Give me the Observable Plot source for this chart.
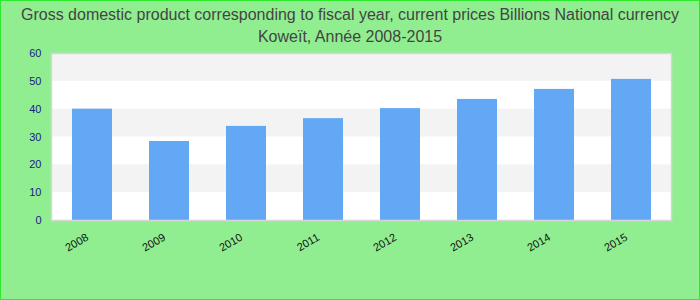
<!DOCTYPE html>
<html><head><meta charset="utf-8">
<script src="https://cdn.jsdelivr.net/npm/d3@7"></script>
<script src="https://cdn.jsdelivr.net/npm/@observablehq/plot@0.6"></script>
<style>
html,body{margin:0;padding:0;}
#wrap{position:relative;width:700px;height:300px;box-sizing:border-box;border:1px solid #2ee82e;background:#90ee90;font-family:"Liberation Sans",Arial,sans-serif;overflow:hidden;}
#title{position:absolute;left:0;top:3px;width:698px;text-align:center;color:#444;font-size:16px;line-height:22px;}
#chart{position:absolute;left:0;top:0;}
</style></head>
<body><div id="wrap"><div id="chart"></div><div id="title">Gross domestic product corresponding to fiscal year, current prices Billions National currency<br>Koweït, Année 2008-2015</div></div>
<script>
const years = ["2008","2009","2010","2011","2012","2013","2014","2015"];
const gdp = [40.0, 28.4, 33.8, 36.6, 40.2, 43.5, 47.1, 50.7];
const yTicks = [0,10,20,30,40,50,60];
const bandLow = [10,30,50];
const bandHigh = [20,40,60];

const data = years.map((y,i)=>({year:y, value:gdp[i]}));
const bands = bandLow.map((l,i)=>({y1:l, y2:bandHigh[i]}));

const plot = Plot.plot({
  width: 698, height: 298,
  marginLeft: 50, marginRight: 28, marginTop: 52, marginBottom: 79,
  style: {background:"transparent", fontFamily:"Liberation Sans, Arial, sans-serif"},
  x: {domain: years, paddingInner: 0.484, paddingOuter: 0.242, label: null},
  y: {domain: [0,60], label: null},
  marks: [
    Plot.frame({fill:"white"}),
    Plot.rect(bands, {y1:"y1", y2:"y2", fill:"#f3f3f3"}),
    Plot.barY(data, {x:"year", y:"value", fill:"#62a8f5"}),
    Plot.frame({stroke:"#d6d6d6", strokeWidth:1.5}),
    Plot.axisY({ticks: yTicks, tickSize:0, tickPadding:10, fontSize:11, fill:"#1a1a8a", label:null}),
    Plot.axisX({tickSize:0, tickRotate:-30, tickPadding:16, dx:-5, fontSize:11, fill:"#111", label:null})
  ]
});
document.getElementById("chart").appendChild(plot);
</script></body></html>
